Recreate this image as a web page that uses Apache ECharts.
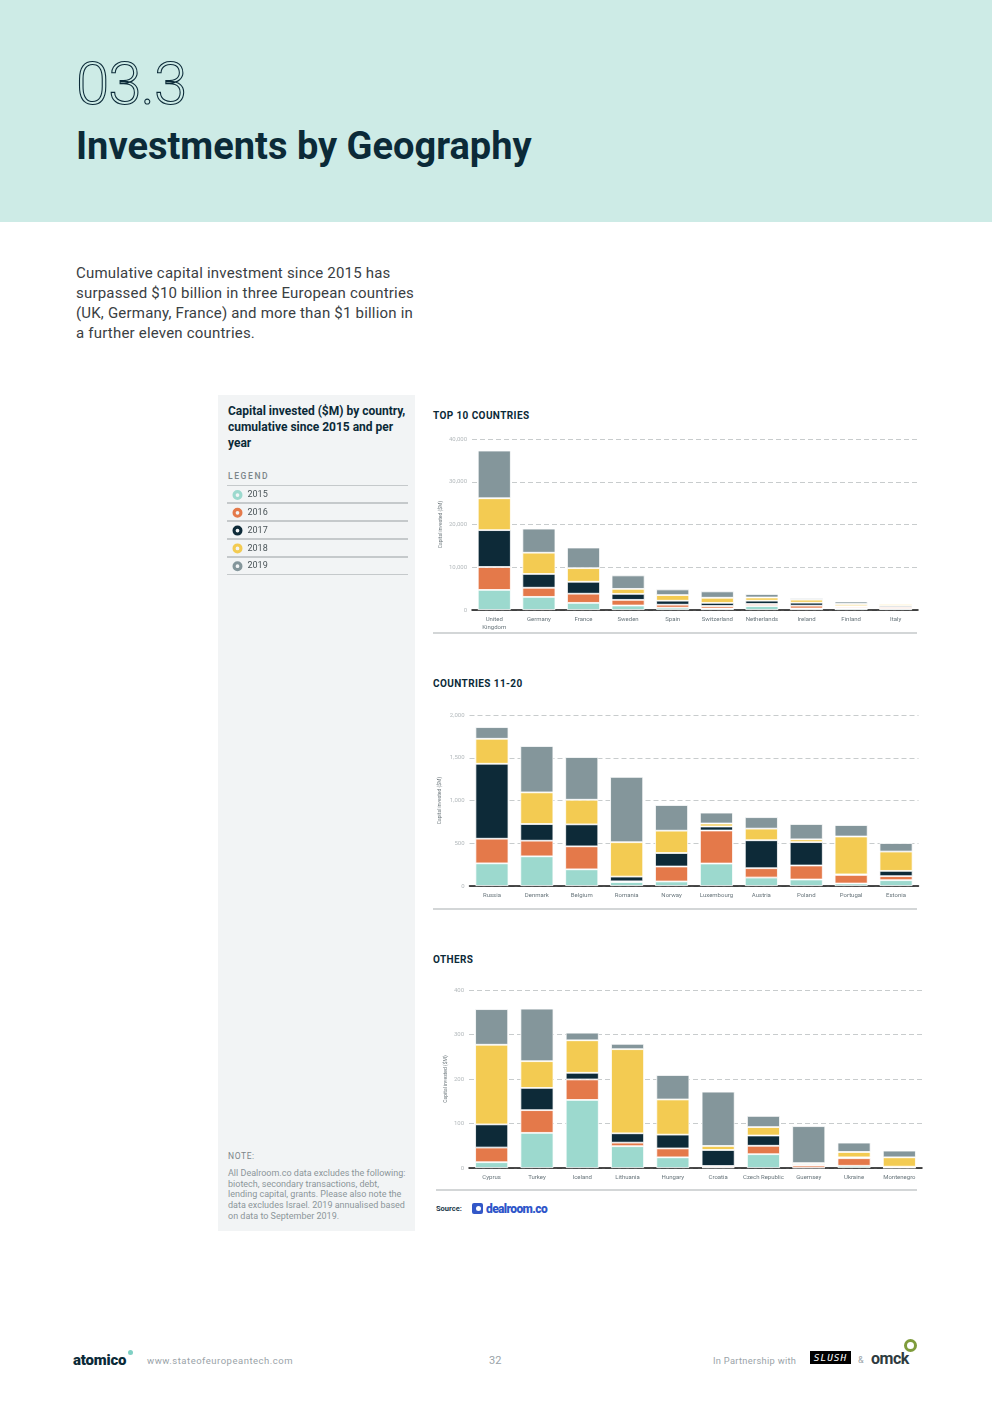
<!DOCTYPE html>
<html><head><meta charset="utf-8">
<script src="https://cdn.jsdelivr.net/npm/echarts/dist/echarts.min.js"></script>
<style>
html,body{margin:0;padding:0;width:992px;height:1403px;background:#fff;overflow:hidden;font-family:Roboto,"Noto Sans",sans-serif;}
#page{position:relative;width:992px;height:1403px;}
.a{position:absolute;white-space:nowrap;}
#header{left:0;top:0;width:992px;height:222px;background:#cdebe6;}
#num{left:76px;top:54px;font-size:60px;line-height:60px;font-weight:300;color:transparent;-webkit-text-stroke:1.1px #0b2a38;letter-spacing:-1px;}
#title{left:76px;top:127px;font-size:38px;line-height:38px;font-weight:700;color:#0b2a38;}
#intro{left:76px;top:263px;font-size:15px;line-height:20px;color:#3a4043;letter-spacing:0.2px;}
#panel{left:218px;top:395px;width:197px;height:836px;background:#f2f4f5;}
#ptitle{left:228px;top:403px;font-size:12px;line-height:16px;font-weight:700;color:#0b2a38;}
#legtitle{left:228px;top:471px;font-size:8.5px;line-height:10px;letter-spacing:1.6px;color:#7c8589;font-weight:500;}
.sep{position:absolute;left:227px;width:181px;height:1.5px;background:#c5c9cb;}
.ctitle{position:absolute;left:433px;font-size:10px;line-height:10px;font-weight:700;color:#0b2a38;letter-spacing:0.4px;}
.rule{position:absolute;height:2px;background:#d3d6d7;}
#note{left:228px;top:1151px;font-size:8.5px;line-height:10px;letter-spacing:0.6px;color:#7c8589;}
#notetxt{left:228px;top:1168px;font-size:9px;line-height:10.7px;color:#8c969a;}
#src{left:436px;top:1205px;font-size:7.5px;line-height:8px;font-weight:700;color:#22384a;}
#dricon{left:472px;top:1203px;width:11px;height:11px;border-radius:2px;background:#3358c8;}
#dricon2{left:476px;top:1206px;width:5px;height:5px;border-radius:50%;background:#fff;}
#drtxt{left:486px;top:1202px;font-size:12px;line-height:14px;font-weight:900;color:#2e55c9;letter-spacing:-0.6px;}
#atomico{left:73px;top:1351px;font-size:15px;line-height:18px;font-weight:900;color:#0b2a38;letter-spacing:-0.2px;}
#adot{left:128px;top:1350px;width:5px;height:5px;border-radius:50%;background:#7fd0c4;}
#url{left:147px;top:1355px;font-size:9.5px;line-height:12px;color:#9aa3a8;letter-spacing:0.5px;}
#pg{left:489px;top:1354px;font-size:11px;line-height:13px;color:#9aa3a8;}
#part{left:713px;top:1355px;font-size:9.3px;line-height:11px;color:#9aa3a8;letter-spacing:0.3px;}
#slush{left:810px;top:1351px;width:41px;height:13px;background:#000;color:#fff;font-size:9.5px;line-height:13px;text-align:center;letter-spacing:1px;font-style:italic;font-family:"DejaVu Sans Mono",monospace;}
#amp{left:858px;top:1355px;font-size:9px;line-height:11px;color:#9aa3a8;}
#omck{left:871px;top:1350px;font-size:16px;line-height:18px;font-weight:700;color:#2e3b40;letter-spacing:-0.5px;}
#ring{left:904px;top:1339px;width:7px;height:7px;border-radius:50%;border:3px solid #7f9c3c;}
#chart{position:absolute;left:0;top:0;width:992px;height:1403px;}
</style></head>
<body><div id="page">
<div id="header" class="a"></div>
<div id="num" class="a">03.3</div>
<div id="title" class="a">Investments by Geography</div>
<div id="intro" class="a">Cumulative capital investment since 2015 has<br>surpassed $10 billion in three European countries<br>(UK, Germany, France) and more than $1 billion in<br>a further eleven countries.</div>
<div id="panel" class="a"></div>
<div id="ptitle" class="a">Capital invested ($M) by country,<br>cumulative since 2015 and per<br>year</div>
<div id="legtitle" class="a">LEGEND</div>
<div class="sep" style="top:484.5px"></div>
<div class="sep" style="top:502px"></div>
<div class="sep" style="top:520px"></div>
<div class="sep" style="top:538px"></div>
<div class="sep" style="top:556px"></div>
<div class="sep" style="top:573.5px"></div>
<div class="ctitle" style="top:411px">TOP 10 COUNTRIES</div>
<div class="ctitle" style="top:679px">COUNTRIES 11-20</div>
<div class="ctitle" style="top:955px">OTHERS</div>
<div class="rule" style="left:433px;width:484px;top:632px"></div>
<div class="rule" style="left:433px;width:484px;top:908px"></div>
<div class="rule" style="left:436px;width:481px;top:1189px"></div>
<div id="note" class="a">NOTE:</div>
<div id="notetxt" class="a">All Dealroom.co data excludes the following:<br>biotech, secondary transactions, debt,<br>lending capital, grants. Please also note the<br>data excludes Israel. 2019 annualised based<br>on data to September 2019.</div>
<div id="src" class="a">Source:</div>
<div id="dricon" class="a"></div><div id="dricon2" class="a"></div>
<div id="drtxt" class="a">dealroom.co</div>
<div id="atomico" class="a">atomico</div><div id="adot" class="a"></div>
<div id="url" class="a">www.stateofeuropeantech.com</div>
<div id="pg" class="a">32</div>
<div id="part" class="a">In Partnership with</div>
<div id="slush" class="a">SLUSH</div>
<div id="amp" class="a">&amp;</div>
<div id="omck" class="a">omck</div><div id="ring" class="a"></div>
<div id="chart"></div>
</div>
<script>
const years = ['2015', '2016', '2017', '2018', '2019'];
const yearColors = ['#9cd9ce', '#e4794a', '#0d2a38', '#f3cb52', '#84969b'];

// Chart 1: top 10 countries ($M)
const top10Countries = ['United Kingdom', 'Germany', 'France', 'Sweden', 'Spain', 'Switzerland', 'Netherlands', 'Ireland', 'Finland', 'Italy'];
const top10_2015 = [4700, 3070, 1670, 1050, 540, 350, 930, 350, 350, 300];
const top10_2016 = [5360, 2140, 2140, 1320, 700, 580, 470, 660, 350, 350];
const top10_2017 = [8620, 3220, 2800, 1400, 930, 740, 780, 700, 200, 350];
const top10_2018 = [7460, 4970, 3180, 1170, 1320, 1200, 740, 700, 500, 420];
const top10_2019 = [11150, 5630, 4820, 3150, 1320, 1480, 820, 390, 580, 60];
const top10Ticks = [0, 10000, 20000, 30000, 40000];

// Chart 2: countries 11-20 ($M)
const mid10Countries = ['Russia', 'Denmark', 'Belgium', 'Romania', 'Norway', 'Luxembourg', 'Austria', 'Poland', 'Portugal', 'Estonia'];
const mid10_2015 = [265, 347, 195, 47, 53, 263, 99, 76, 29, 68];
const mid10_2016 = [288, 183, 269, 8, 175, 386, 109, 164, 101, 47];
const mid10_2017 = [877, 195, 257, 55, 158, 47, 327, 273, 6, 62];
const mid10_2018 = [292, 370, 288, 402, 261, 35, 136, 33, 443, 226];
const mid10_2019 = [136, 542, 499, 764, 300, 127, 134, 179, 134, 99];
const mid10Ticks = [0, 500, 1000, 1500, 2000];

// Chart 3: others ($M)
const otherCountries = ['Cyprus', 'Turkey', 'Iceland', 'Lithuania', 'Hungary', 'Croatia', 'Czech Republic', 'Guernsey', 'Ukraine', 'Montenegro'];
const other_2015 = [13, 79, 153, 49, 24, 1.5, 31, 1, 5, 1];
const other_2016 = [33, 51, 46, 8, 20, 3, 19, 5, 17, 1];
const other_2017 = [52, 50, 15, 21, 31, 36, 23, 2, 2, 1];
const other_2018 = [179, 60, 73, 189, 79, 9, 19, 3, 12, 21];
const other_2019 = [80, 118, 17, 12, 55, 122, 25, 83, 21, 15];
const otherTicks = [0, 100, 200, 300, 400];

const yName = 'Capital invested ($M)';

const charts = [
  {cats: top10Countries, data: [top10_2015, top10_2016, top10_2017, top10_2018, top10_2019], ticks: top10Ticks,
   grid: {left: 472, width: 446, top: 439, height: 171}, nameGap: 29},
  {cats: mid10Countries, data: [mid10_2015, mid10_2016, mid10_2017, mid10_2018, mid10_2019], ticks: mid10Ticks,
   grid: {left: 469.5, width: 449, top: 715, height: 171}, nameGap: 27},
  {cats: otherCountries, data: [other_2015, other_2016, other_2017, other_2018, other_2019], ticks: otherTicks,
   grid: {left: 469, width: 453, top: 990, height: 178}, nameGap: 21}
];

const ringIcon = 'path://M12,0A12,12,0,1,1,11.99,0Z M12,7.5A4.5,4.5,0,1,0,12.01,7.5Z';

const option = {
  animation: false,
  backgroundColor: 'transparent',
  textStyle: {fontFamily: 'Roboto, "Noto Sans", sans-serif'},
  legend: {
    orient: 'vertical', left: 227.5, top: 485, itemWidth: 10, itemHeight: 10, itemGap: 7.8,
    icon: ringIcon, selectedMode: false, data: years,
    itemStyle: {borderWidth: 0},
    textStyle: {fontSize: 9, color: '#4a5458', lineHeight: 10}
  },
  grid: charts.map(c => Object.assign({outerBoundsMode: 'none', containLabel: false}, c.grid)),
  xAxis: charts.map((c, i) => ({
    type: 'category', gridIndex: i, data: c.cats,
    axisLine: {show: true, lineStyle: {color: '#111', width: 1.5}},
    axisTick: {show: false},
    axisLabel: {interval: 0, fontSize: 6, color: '#68757b', margin: 5, lineHeight: 8,
      formatter: v => v === 'United Kingdom' ? 'United\nKingdom' : v}
  })),
  yAxis: charts.map((c, i) => ({
    type: 'value', gridIndex: i, min: c.ticks[0], max: c.ticks[c.ticks.length - 1],
    interval: c.ticks[1] - c.ticks[0],
    name: yName, nameLocation: 'middle', nameGap: c.nameGap, nameRotate: 90,
    nameTextStyle: {fontSize: 5, color: '#6a757a'},
    axisLine: {show: false}, axisTick: {show: false},
    axisLabel: {fontSize: 6, color: '#b3b9bc', margin: 5, formatter: v => v.toLocaleString('en-US')},
    splitLine: {show: true, lineStyle: {color: '#c8cccd', width: 1, type: [5, 3]}}
  })),
  series: []
};

charts.forEach((c, ci) => {
  years.forEach((y, yi) => {
    option.series.push({
      name: y, type: 'bar', stack: 'chart' + ci, xAxisIndex: ci, yAxisIndex: ci,
      barWidth: 33, data: c.data[yi],
      itemStyle: {color: yearColors[yi], borderColor: '#fff', borderWidth: 0.8},
      emphasis: {disabled: true}
    });
  });
});

const chart = echarts.init(document.getElementById('chart'));
chart.setOption(option);
</script>
</body></html>
